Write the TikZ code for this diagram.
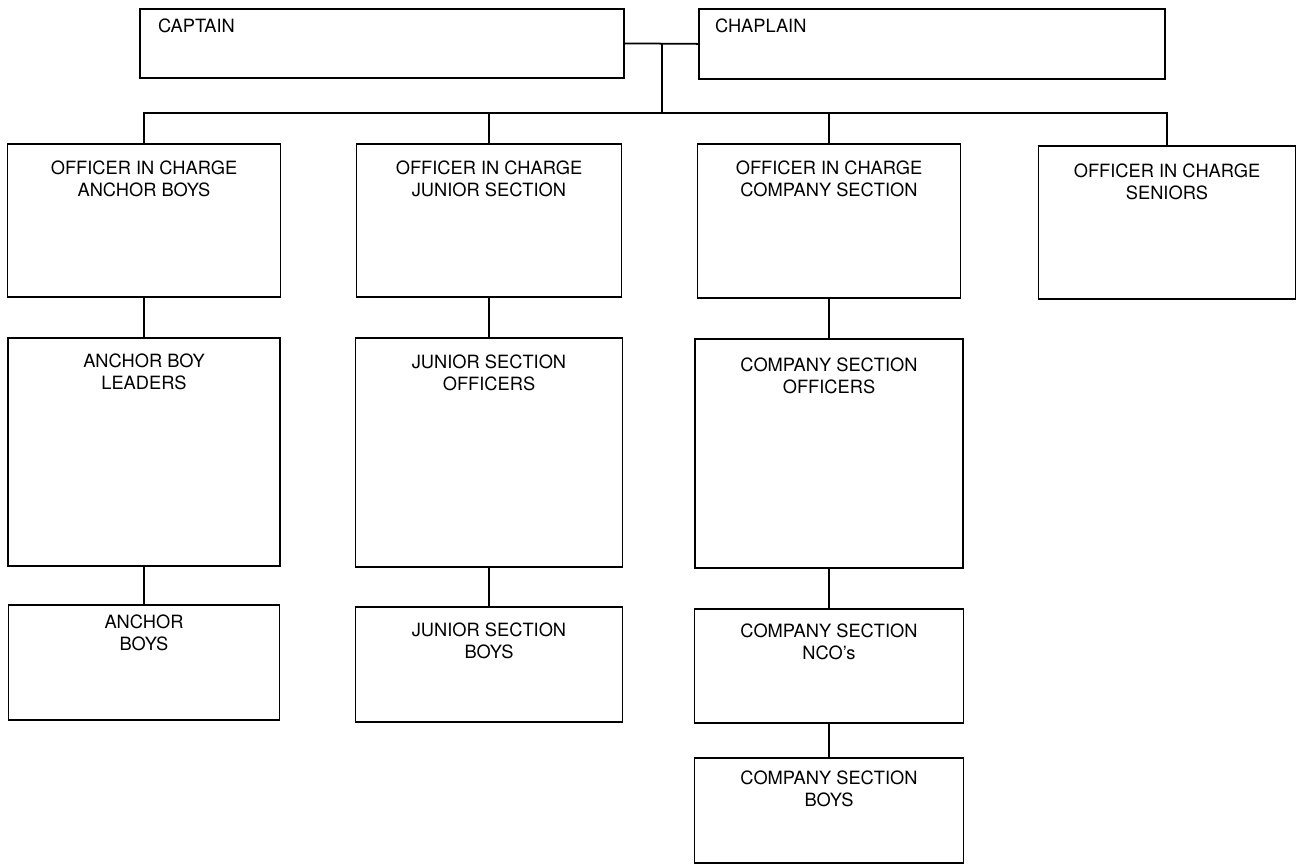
\documentclass[tikz,border=0pt]{standalone}
\usepackage{fontspec}
\setmainfont{TeX Gyre Heros}

\tikzset{
  unit/.style={draw, line width=1pt, anchor=north, inner sep=0pt},
  post/.style={font=\fontsize{10.4}{12.3}\selectfont, align=center, anchor=north, inner sep=0pt},
}

\begin{document}
\begin{tikzpicture}[line width=1pt]
    \useasboundingbox (0,0) rectangle (25.96,-17.34);

    % Top boxes
    \node[unit, minimum width=9.68cm, minimum height=1.38cm] (capt) at (7.64,-0.16) {};
    \node[unit, minimum width=9.32cm, minimum height=1.40cm] (chap) at (18.64,-0.16) {};
    \node[post, anchor=north west] (capt-t) at ([xshift=0.36cm, yshift=-0.20cm]capt.north west) {CAPTAIN};
    \node[post, anchor=north west] (chap-t) at ([xshift=0.32cm, yshift=-0.20cm]chap.north west) {CHAPLAIN};

    % Anchor Boys column
    \node[unit, minimum width=5.46cm, minimum height=3.06cm] (oicA) at (2.88,-2.86) {};
    \node[unit, minimum width=5.44cm, minimum height=4.56cm] (leadA) at (2.88,-6.74) {};
    \node[unit, minimum width=5.42cm, minimum height=2.30cm] (boysA) at (2.88,-12.08) {};
    \node[post] (oicA-t) at ([yshift=-0.34cm]oicA.north) {OFFICER IN CHARGE\\ANCHOR BOYS};
    \node[post] (leadA-t) at ([yshift=-0.32cm]leadA.north) {ANCHOR BOY\\LEADERS};
    \node[post] (boysA-t) at ([yshift=-0.20cm]boysA.north) {ANCHOR\\BOYS};

    % Junior Section column
    \node[unit, minimum width=5.30cm, minimum height=3.06cm] (oicJ) at (9.78,-2.86) {};
    \node[unit, minimum width=5.34cm, minimum height=4.58cm] (offJ) at (9.78,-6.74) {};
    \node[unit, minimum width=5.34cm, minimum height=2.30cm] (boysJ) at (9.78,-12.12) {};
    \node[post] (oicJ-t) at ([yshift=-0.34cm]oicJ.north) {OFFICER IN CHARGE\\JUNIOR SECTION};
    \node[post] (offJ-t) at ([yshift=-0.34cm]offJ.north) {JUNIOR SECTION\\OFFICERS};
    \node[post] (boysJ-t) at ([yshift=-0.32cm]boysJ.north) {JUNIOR SECTION\\BOYS};

    % Company Section column
    \node[unit, minimum width=5.26cm, minimum height=3.08cm] (oicC) at (16.58,-2.86) {};
    \node[unit, minimum width=5.36cm, minimum height=4.58cm] (offC) at (16.58,-6.76) {};
    \node[unit, minimum width=5.38cm, minimum height=2.28cm] (ncoC) at (16.58,-12.16) {};
    \node[unit, minimum width=5.38cm, minimum height=2.10cm] (boysC) at (16.58,-15.14) {};
    \node[post] (oicC-t) at ([yshift=-0.34cm]oicC.north) {OFFICER IN CHARGE\\COMPANY SECTION};
    \node[post] (offC-t) at ([yshift=-0.38cm]offC.north) {COMPANY SECTION\\OFFICERS};
    \node[post] (ncoC-t) at ([yshift=-0.30cm]ncoC.north) {COMPANY SECTION\\NCO’s};
    \node[post] (boysC-t) at ([yshift=-0.26cm]boysC.north) {COMPANY SECTION\\BOYS};

    % Seniors
    \node[unit, minimum width=5.14cm, minimum height=3.06cm] (oicS) at (23.34,-2.90) {};
    \node[post] (oicS-t) at ([yshift=-0.36cm]oicS.north) {OFFICER IN CHARGE\\SENIORS};

    % Links at the top
    \draw (capt.east) -- (chap.west);
    \coordinate (mid) at (13.24,-0.85);
    \coordinate (bar) at (13.24,-2.26);
    \draw (mid) -- (bar);
    \draw (oicA.north) |- (bar) -| (oicS.north);
    \draw (oicJ.north) -- (oicJ.north |- bar);
    \draw (oicC.north) -- (oicC.north |- bar);

    % Links down each column
    \draw (oicA.south) -- (leadA.north);
    \draw (leadA.south) -- (boysA.north);
    \draw (oicJ.south) -- (offJ.north);
    \draw (offJ.south) -- (boysJ.north);
    \draw (oicC.south) -- (offC.north);
    \draw (offC.south) -- (ncoC.north);
    \draw (ncoC.south) -- (boysC.north);
\end{tikzpicture}
\end{document}
